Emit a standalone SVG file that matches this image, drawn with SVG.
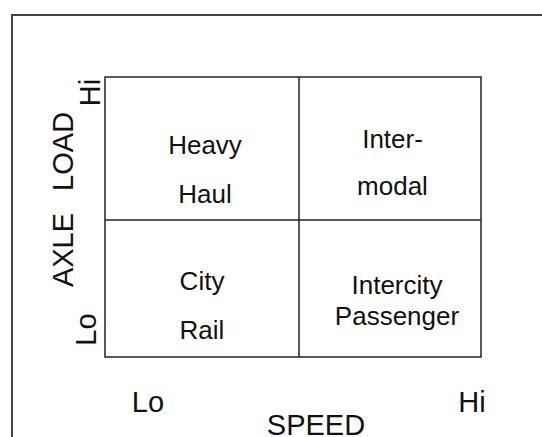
<svg xmlns="http://www.w3.org/2000/svg" width="542" height="437" viewBox="0 0 542 437">
<style>
  .frame { fill: none; stroke: #444; stroke-width: 2; }
  .grid { fill: none; stroke: #222; stroke-width: 1.5; }
  .cell { font-family: "Liberation Sans", Arial, sans-serif; font-size: 26px; fill: #111; text-anchor: middle; }
  .axis { font-family: "Liberation Sans", Arial, sans-serif; font-size: 29px; fill: #111; text-anchor: middle; }
</style>
<rect width="542" height="437" fill="#fff"/>
<path class="frame" d="M12,438 V15 H543"/>
<g id="connectors">
  <rect class="grid" x="105" y="77" width="376" height="280"/>
  <line class="grid" x1="299" y1="77" x2="299" y2="357"/>
  <line class="grid" x1="105" y1="220" x2="481" y2="220"/>
</g>
<g id="heavy-haul">
  <text class="cell" x="205" y="154">Heavy</text>
  <text class="cell" x="205" y="202.5">Haul</text>
</g>
<g id="intermodal">
  <text class="cell" x="392.5" y="147.5">Inter-</text>
  <text class="cell" x="392.5" y="195">modal</text>
</g>
<g id="city-rail">
  <text class="cell" x="202" y="290">City</text>
  <text class="cell" x="202" y="338.5">Rail</text>
</g>
<g id="intercity-passenger">
  <text class="cell" x="397" y="293.5">Intercity</text>
  <text class="cell" x="397" y="325">Passenger</text>
</g>
<g id="y-axis">
  <text class="axis" transform="translate(73,199.5) rotate(-90)" word-spacing="14">AXLE LOAD</text>
  <text class="axis" transform="translate(100,92.5) rotate(-90)">Hi</text>
  <text class="axis" transform="translate(96,329.5) rotate(-90)">Lo</text>
</g>
<g id="x-axis">
  <text class="axis" x="148" y="411.5">Lo</text>
  <text class="axis" x="472" y="411.5">Hi</text>
  <text class="axis" x="316" y="434.5">SPEED</text>
</g>
</svg>
